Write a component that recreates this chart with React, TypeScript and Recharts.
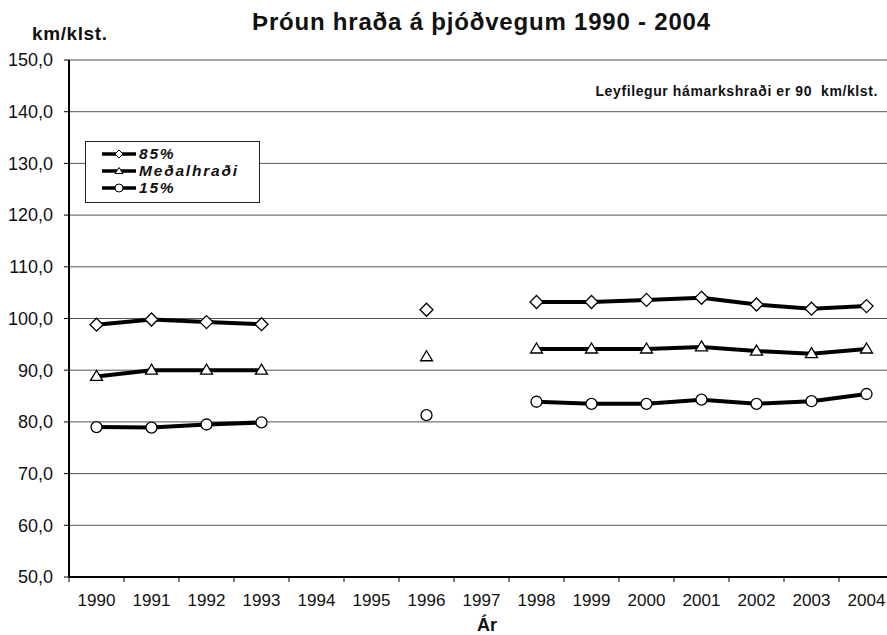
import React from "react"
import { LineChart, Line, XAxis, YAxis, CartesianGrid, Legend } from "recharts"

const years = [1990, 1991, 1992, 1993, 1994, 1995, 1996, 1997, 1998, 1999, 2000, 2001, 2002, 2003, 2004]
const p85 = [98.8, 99.8, 99.3, 98.9, null, null, 101.7, null, 103.2, 103.2, 103.6, 104.0, 102.7, 101.9, 102.4]
const medal = [88.8, 90.0, 90.0, 90.0, null, null, 92.6, null, 94.1, 94.1, 94.1, 94.5, 93.7, 93.2, 94.1]
const p15 = [79.0, 78.9, 79.5, 79.9, null, null, 81.3, null, 83.9, 83.5, 83.5, 84.3, 83.5, 84.0, 85.4]
const yTicks = [50, 60, 70, 80, 90, 100, 110, 120, 130, 140, 150]

const data = years.map((year, i) => ({ year, p85: p85[i], medal: medal[i], p15: p15[i] }))

const FONT = '"Liberation Sans", Arial, Helvetica, sans-serif'
const CHART_W = 900
const PLOT_LEFT = 69
const PLOT_RIGHT_MARGIN = 6
const BAND = (CHART_W - PLOT_LEFT - PLOT_RIGHT_MARGIN) / years.length

function Diamond(props: any) {
  const { cx, cy, index } = props
  if (cy == null || cx == null) return <g key={index} />
  const s = 6.5
  return (
    <polygon
      key={index}
      points={`${cx},${cy - s} ${cx + s},${cy} ${cx},${cy + s} ${cx - s},${cy}`}
      fill="#fff"
      stroke="#000"
      strokeWidth={1.3}
    />
  )
}

function Triangle(props: any) {
  const { cx, cy, index } = props
  if (cy == null || cx == null) return <g key={index} />
  return (
    <polygon
      key={index}
      points={`${cx},${cy - 6} ${cx + 6},${cy + 4} ${cx - 6},${cy + 4}`}
      fill="#fff"
      stroke="#000"
      strokeWidth={1.3}
    />
  )
}

function Circle(props: any) {
  const { cx, cy, index } = props
  if (cy == null || cx == null) return <g key={index} />
  return <circle key={index} cx={cx} cy={cy} r={5.5} fill="#fff" stroke="#000" strokeWidth={1.3} />
}

// label at the year's centre, tick marks at the category edges
function YearTick(props: any) {
  const { x, y, payload, index } = props
  const last = index === years.length - 1
  return (
    <g>
      <line x1={x - BAND / 2} y1={y} x2={x - BAND / 2} y2={y + 5} stroke="#000" strokeWidth={1} />
      {last && <line x1={x + BAND / 2} y1={y} x2={x + BAND / 2} y2={y + 5} stroke="#000" strokeWidth={1} />}
      <text x={x} y={y + 29} textAnchor="middle" fontSize={17} fontFamily={FONT} fill="#111">
        {payload.value}
      </text>
    </g>
  )
}

const legendItems = [
  { label: "85%", shape: "diamond" },
  { label: "Meðalhraði", shape: "triangle" },
  { label: "15%", shape: "circle" },
]

function LegendSample({ shape }: { shape: string }) {
  return (
    <svg width={34} height={12} style={{ marginRight: 3 }}>
      <line x1={0} y1={6} x2={34} y2={6} stroke="#000" strokeWidth={3.5} />
      {shape === "diamond" && <polygon points="17,2 21,6 17,10 13,6" fill="#fff" stroke="#000" strokeWidth={1} />}
      {shape === "triangle" && <polygon points="17,2.5 21,8.5 13,8.5" fill="#fff" stroke="#000" strokeWidth={1} />}
      {shape === "circle" && <circle cx={17} cy={6} r={4} fill="#fff" stroke="#000" strokeWidth={1} />}
    </svg>
  )
}

function ChartLegend() {
  return (
    <div
      style={{
        border: "1px solid #222",
        background: "#fff",
        padding: "3px 0 0 16px",
        boxSizing: "border-box",
        width: 175,
        height: 62,
      }}
    >
      {legendItems.map((it) => (
        <div key={it.label} style={{ display: "flex", alignItems: "center", height: 17 }}>
          <LegendSample shape={it.shape} />
          <span
            style={{
              fontFamily: FONT,
              fontSize: 15.5,
              fontWeight: 700,
              fontStyle: "italic",
              letterSpacing: 1.8,
              lineHeight: 1,
              color: "#111",
            }}
          >
            {it.label}
          </span>
        </div>
      ))}
    </div>
  )
}

export default function App() {
  return (
    <div
      style={{
        position: "fixed",
        left: 0,
        top: 0,
        width: 887,
        height: 635,
        overflow: "hidden",
        background: "#fff",
        fontFamily: FONT,
        color: "#111",
      }}
    >
      <div style={{ position: "absolute", left: 0, top: 0 }}>
        <LineChart width={CHART_W} height={635} data={data} margin={{ top: 60, right: PLOT_RIGHT_MARGIN, bottom: 0, left: 0 }}>
          <CartesianGrid vertical={false} stroke="#555" strokeWidth={1} />
          <XAxis
            dataKey="year"
            type="number"
            domain={[1989.5, 2004.5]}
            ticks={years}
            interval={0}
            height={58}
            tickLine={false}
            tickSize={0}
            tickMargin={0}
            tick={<YearTick />}
            axisLine={{ stroke: "#000", strokeWidth: 2 }}
          />
          <XAxis
            xAxisId="top"
            orientation="top"
            type="number"
            domain={[1989.5, 2004.5]}
            height={0}
            tick={false}
            tickLine={false}
            axisLine={{ stroke: "#000", strokeWidth: 2 }}
          />
          <YAxis
            domain={[50, 150]}
            ticks={yTicks}
            interval={0}
            width={PLOT_LEFT}
            tickSize={5}
            tickMargin={11}
            tickFormatter={(v: number) => v.toFixed(1).replace(".", ",")}
            tick={{ fontSize: 18, fontFamily: FONT, fill: "#111" }}
            tickLine={{ stroke: "#000" }}
            axisLine={{ stroke: "#000", strokeWidth: 2 }}
          />
          <Legend
            layout="horizontal"
            verticalAlign="middle"
            align="center"
            content={<ChartLegend />}
            wrapperStyle={{ left: 85, top: 141, width: 175, height: 62 }}
          />
          <Line dataKey="p85" name="85%" stroke="#000" strokeWidth={4} dot={<Diamond />} isAnimationActive={false} />
          <Line dataKey="medal" name="Meðalhraði" stroke="#000" strokeWidth={4} dot={<Triangle />} isAnimationActive={false} />
          <Line dataKey="p15" name="15%" stroke="#000" strokeWidth={4} dot={<Circle />} isAnimationActive={false} />
        </LineChart>
      </div>
      <div
        style={{
          position: "absolute",
          left: 0,
          width: 963,
          top: 9,
          textAlign: "center",
          fontSize: 24,
          lineHeight: "26px",
          letterSpacing: 0.8,
          fontWeight: 700,
        }}
      >
        Þróun hraða á þjóðvegum 1990 - 2004
      </div>
      <div style={{ position: "absolute", left: 32, top: 23, fontSize: 19, lineHeight: "22px", letterSpacing: 0.6, fontWeight: 700 }}>
        km/klst.
      </div>
      <div
        style={{
          position: "absolute",
          right: 9,
          top: 82,
          fontSize: 14,
          lineHeight: "18px",
          letterSpacing: 0.6,
          fontWeight: 700,
          whiteSpace: "pre",
        }}
      >
        {"Leyfilegur hámarkshraði er 90  km/klst."}
      </div>
      <div
        style={{
          position: "absolute",
          left: 462,
          width: 50,
          top: 615,
          textAlign: "center",
          fontSize: 18,
          lineHeight: "20px",
          fontWeight: 700,
        }}
      >
        Ár
      </div>
    </div>
  )
}
